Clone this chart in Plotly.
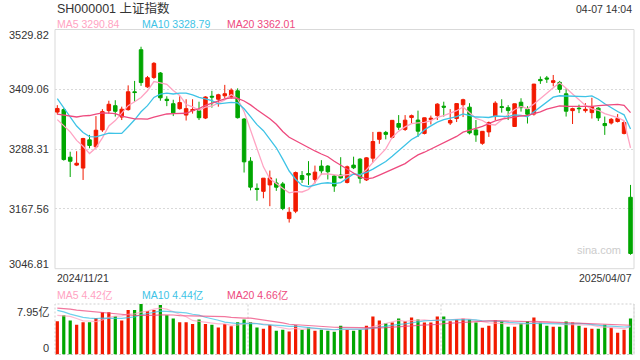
import plotly.graph_objects as go
import pandas as pd

W, H = 640, 360

# ---------------- data ----------------
date_labels = ["2024/11/21", "2025/04/07"]
price_ticks = [3529.82, 3409.06, 3288.31, 3167.56, 3046.81]
vol_ticks = [7.95, 0]

open_ = [3363, 3368, 3272, 3256, 3250, 3307, 3293, 3327, 3366, 3376,
         3353, 3368, 3404, 3489, 3414, 3433, 3442, 3389, 3380, 3370,
         3357, 3366, 3366, 3351, 3395, 3389, 3396, 3394, 3406, 3349,
         3264, 3209, 3203, 3216, 3220, 3218, 3148, 3163, 3235, 3239,
         3227, 3254, 3254, 3234, 3236, 3221, 3256, 3268, 3226, 3270,
         3308, 3322, 3312, 3340, 3328, 3352, 3347, 3320, 3348, 3356,
         3375, 3341, 3350, 3378, 3373, 3327, 3300, 3323, 3354, 3374,
         3372, 3334, 3383, 3369, 3359, 3429, 3432, 3423, 3423, 3400,
         3366, 3371, 3366, 3362, 3371, 3340, 3341, 3344, 3320, 3191]
high = [3377, 3371, 3283, 3284, 3311, 3317, 3355, 3369, 3386, 3387,
        3374, 3417, 3426, 3495, 3436, 3464, 3444, 3395, 3388, 3395,
        3389, 3389, 3384, 3395, 3406, 3400, 3418, 3411, 3411, 3351,
        3272, 3219, 3229, 3245, 3229, 3222, 3171, 3243, 3244, 3264,
        3255, 3266, 3256, 3236, 3272, 3255, 3273, 3270, 3272, 3323,
        3323, 3325, 3347, 3357, 3357, 3358, 3366, 3352, 3356, 3381,
        3384, 3369, 3381, 3390, 3381, 3347, 3323, 3344, 3385, 3389,
        3377, 3380, 3391, 3375, 3420, 3435, 3436, 3438, 3426, 3411,
        3372, 3378, 3381, 3392, 3373, 3354, 3351, 3359, 3345, 3216]
low = [3358, 3265, 3232, 3254, 3226, 3290, 3290, 3323, 3360, 3354,
       3347, 3366, 3384, 3416, 3412, 3430, 3386, 3375, 3355, 3368,
       3346, 3360, 3347, 3349, 3372, 3374, 3391, 3390, 3350, 3241,
       3205, 3184, 3189, 3173, 3204, 3165, 3140, 3159, 3220, 3216,
       3219, 3236, 3227, 3202, 3229, 3219, 3248, 3219, 3224, 3261,
       3299, 3308, 3310, 3327, 3325, 3340, 3313, 3318, 3338, 3347,
       3354, 3337, 3343, 3353, 3318, 3303, 3297, 3313, 3347, 3362,
       3347, 3333, 3364, 3340, 3356, 3420, 3422, 3415, 3402, 3354,
       3339, 3361, 3362, 3350, 3345, 3317, 3338, 3342, 3318, 3075]
close = [3370.40, 3267.19, 3263.76, 3259.76, 3309.78, 3295.70, 3326.46, 3363.98, 3378.81, 3364.65,
         3368.86, 3404.08, 3402.53, 3422.66, 3432.49, 3461.50, 3391.88, 3386.33, 3361.49, 3382.21,
         3370.03, 3368.07, 3351.63, 3393.53, 3393.35, 3398.08, 3400.14, 3407.33, 3351.76, 3262.56,
         3211.43, 3206.92, 3229.64, 3230.17, 3211.39, 3168.52, 3160.76, 3240.94, 3227.12, 3236.03,
         3241.82, 3244.38, 3242.62, 3213.62, 3230.16, 3252.63, 3250.60, 3229.49, 3270.66, 3303.67,
         3322.17, 3318.06, 3346.39, 3332.48, 3346.72, 3355.83, 3324.49, 3351.54, 3350.78, 3379.11,
         3373.03, 3346.04, 3380.21, 3388.06, 3320.90, 3316.93, 3324.21, 3341.96, 3381.10, 3372.55,
         3366.16, 3379.83, 3371.92, 3358.73, 3419.56, 3426.43, 3429.76, 3426.43, 3408.95, 3364.83,
         3370.03, 3369.98, 3368.70, 3373.75, 3351.31, 3335.75, 3348.44, 3350.13, 3342.01, 3077.50]
volume = [5.23, 6.19, 5.34, 4.70, 5.07, 5.07, 5.76, 6.67, 6.67, 6.03,
          5.34, 6.99, 6.99, 7.95, 6.83, 6.99, 7.79, 6.19, 5.66, 5.07,
          5.07, 4.80, 5.50, 4.80, 4.70, 4.27, 4.80, 4.43, 5.07, 5.50,
          5.12, 4.27, 4.06, 4.64, 3.74, 3.90, 3.63, 4.59, 3.90, 4.27,
          3.74, 3.90, 3.74, 3.58, 4.54, 3.90, 3.74, 3.90, 4.54, 5.98,
          5.34, 4.91, 5.02, 5.66, 5.23, 5.82, 5.50, 5.02, 5.02, 5.98,
          5.98, 5.23, 5.50, 5.66, 5.50, 5.02, 4.22, 4.54, 5.39, 5.23,
          4.38, 4.38, 4.91, 5.23, 5.82, 5.02, 4.54, 4.38, 4.38, 5.18,
          5.02, 4.54, 4.22, 4.06, 4.06, 4.70, 4.22, 3.42, 3.90, 5.66]
# sessions before the first visible candle (needed for the moving averages)
prior_close = [3299.70, 3322.20, 3286.41, 3266.24, 3279.82, 3272.01, 3310.21, 3386.99, 3383.81, 3470.07,
               3452.30, 3470.66, 3421.97, 3439.28, 3379.84, 3330.73, 3323.85, 3346.01, 3367.99]
prior_volume = [7.2, 7.9, 7.4, 7.0, 6.8, 6.9, 7.6, 8.6, 8.3, 9.1,
                8.5, 8.9, 7.8, 7.2, 6.24, 6.3, 6.0, 6.4, 6.86]

price_ma_text = ["MA5 3290.84", "MA10 3328.79", "MA20 3362.01"]
vol_ma_text = ["MA5 4.42亿", "MA10 4.44亿", "MA20 4.66亿"]
title_text = "SH000001 上证指数"
time_text = "04-07 14:04"
vol_max_label = "7.95亿"

# ---------------- styling ----------------
RED = "#f21a00"
GREEN = "#00a600"
MA_COLORS = ["#ffa3c2", "#3ec3e6", "#ee4a7e"]
FONT = "Liberation Sans, Arial, Noto Sans CJK SC, sans-serif"
GRID = "#d9d9d9"

n = len(close)
xs = list(range(n))
PERIODS = [5, 10, 20]

def ma(prior, vals, p):
    s = pd.Series(prior + vals).rolling(p).mean()
    return s.iloc[len(prior):].tolist()

price_ma = [ma(prior_close, close, p) for p in PERIODS]
vol_ma = [ma(prior_volume, volume, p) for p in PERIODS]

# pixel geometry of the panels
L, R = 55, 634
MT, MB = 29.5, 268.7
VT, VB = 304.0, 354.5

def px(x):
    return x / W

def py(y):
    return 1 - y / H

fig = go.Figure()

fig.add_trace(go.Candlestick(
    x=xs, open=open_, high=high, low=low, close=close,
    increasing=dict(line=dict(color=RED, width=1), fillcolor=RED),
    decreasing=dict(line=dict(color=GREEN, width=1), fillcolor=GREEN),
    whiskerwidth=0, showlegend=False, hoverinfo="skip",
    xaxis="x", yaxis="y"))

for vals, col in zip(price_ma, MA_COLORS):
    fig.add_trace(go.Scatter(x=xs, y=vals, mode="lines",
                             line=dict(color=col, width=1.3),
                             showlegend=False, hoverinfo="skip",
                             xaxis="x", yaxis="y"))

vol_colors = [RED if c >= o else GREEN for o, c in zip(open_, close)]
fig.add_trace(go.Bar(x=xs, y=volume, marker=dict(color=vol_colors, line=dict(width=0)),
                     width=0.5, showlegend=False, hoverinfo="skip",
                     xaxis="x2", yaxis="y2"))

for vals, col in zip(vol_ma, MA_COLORS):
    fig.add_trace(go.Scatter(x=xs, y=vals, mode="lines",
                             line=dict(color=col, width=1.2), opacity=0.75,
                             showlegend=False, hoverinfo="skip",
                             xaxis="x2", yaxis="y2"))

xr = [-0.36, n - 1 + 0.54]
common_x = dict(range=xr, showticklabels=False, showgrid=False, zeroline=False,
                showline=False, fixedrange=True, domain=[px(L), px(R)])

fig.update_layout(
    width=W, height=H,
    margin=dict(l=0, r=0, t=0, b=0),
    paper_bgcolor="white", plot_bgcolor="white",
    boxgap=0.22,
    font=dict(family=FONT, size=11, color="#333333"),
    xaxis=dict(**common_x, anchor="y", rangeslider=dict(visible=False)),
    xaxis2=dict(**common_x, anchor="y2"),
    yaxis=dict(range=[price_ticks[-1], price_ticks[0]], domain=[py(MB), py(MT)],
               tickvals=price_ticks[1:-1], showticklabels=False,
               showgrid=True, gridcolor=GRID, griddash="2px,2px", gridwidth=1,
               zeroline=False, showline=False, fixedrange=True),
    yaxis2=dict(range=[0, vol_ticks[0]], domain=[py(VB), py(VT)],
                showticklabels=False, showgrid=False, zeroline=False,
                showline=False, fixedrange=True),
)

shapes = []
# main panel border
shapes.append(dict(type="rect", xref="paper", yref="paper",
                   x0=px(L), x1=px(R), y0=py(MB), y1=py(MT),
                   line=dict(color=GRID, width=1), layer="below"))
# volume panel border (dotted) and right solid edge
shapes.append(dict(type="rect", xref="paper", yref="paper",
                   x0=px(L), x1=px(R), y0=py(VB), y1=py(VT),
                   line=dict(color="#cfcfcf", width=1, dash="2px,2px"), layer="below"))
shapes.append(dict(type="line", xref="paper", yref="paper",
                   x0=px(R), x1=px(R), y0=py(VB), y1=py(VT),
                   line=dict(color=GRID, width=1)))
for fr in (1 / 3, 2 / 3):
    xx = L + (R - L) * fr
    shapes.append(dict(type="line", xref="paper", yref="paper",
                       x0=px(xx), x1=px(xx), y0=py(VB), y1=py(VT),
                       line=dict(color="#cfcfcf", width=1, dash="2px,2px"), layer="below"))
fig.update_layout(shapes=shapes)

ann = []

def text(x, y, s, color="#333333", size=11, xanchor="left"):
    ann.append(dict(x=px(x), y=py(y), xref="paper", yref="paper", text=s,
                    showarrow=False, xanchor=xanchor, yanchor="middle",
                    font=dict(size=size, color=color, family=FONT)))

text(L, 8.5, title_text, size=12.5)
text(R, 8.5, time_text, size=10.5, xanchor="right")
for xpos, s, col in zip([L, 140, 225], price_ma_text, MA_COLORS):
    text(xpos, 24, s, color=col, size=10.5)
for xpos, s, col in zip([L, 140, 225], vol_ma_text, MA_COLORS):
    text(xpos, 295, s, color=col, size=10.5)

# price axis labels (inset at top and bottom)
label_y = {0: 35, 4: 263.5}
for k, v in enumerate(price_ticks):
    yy = label_y.get(k, MT + (price_ticks[0] - v) / (price_ticks[0] - price_ticks[-1]) * (MB - MT))
    text(51, yy, f"{v:.2f}", size=11, xanchor="right")

text(51, 312, vol_max_label, size=11, xanchor="right")
text(51, 348, str(vol_ticks[1]), size=11, xanchor="right")

text(L, 277.5, date_labels[0], size=10.5)
text(R, 277.5, date_labels[1], size=10.5, xanchor="right")

text(623, 249.5, "sina.com", color="#cccccc", size=11, xanchor="right")

fig.update_layout(annotations=ann)

fig.write_html("out.html",
               config={"displayModeBar": False, "staticPlot": True},
               post_script="document.body.style.margin='0';document.body.style.overflow='hidden';")
